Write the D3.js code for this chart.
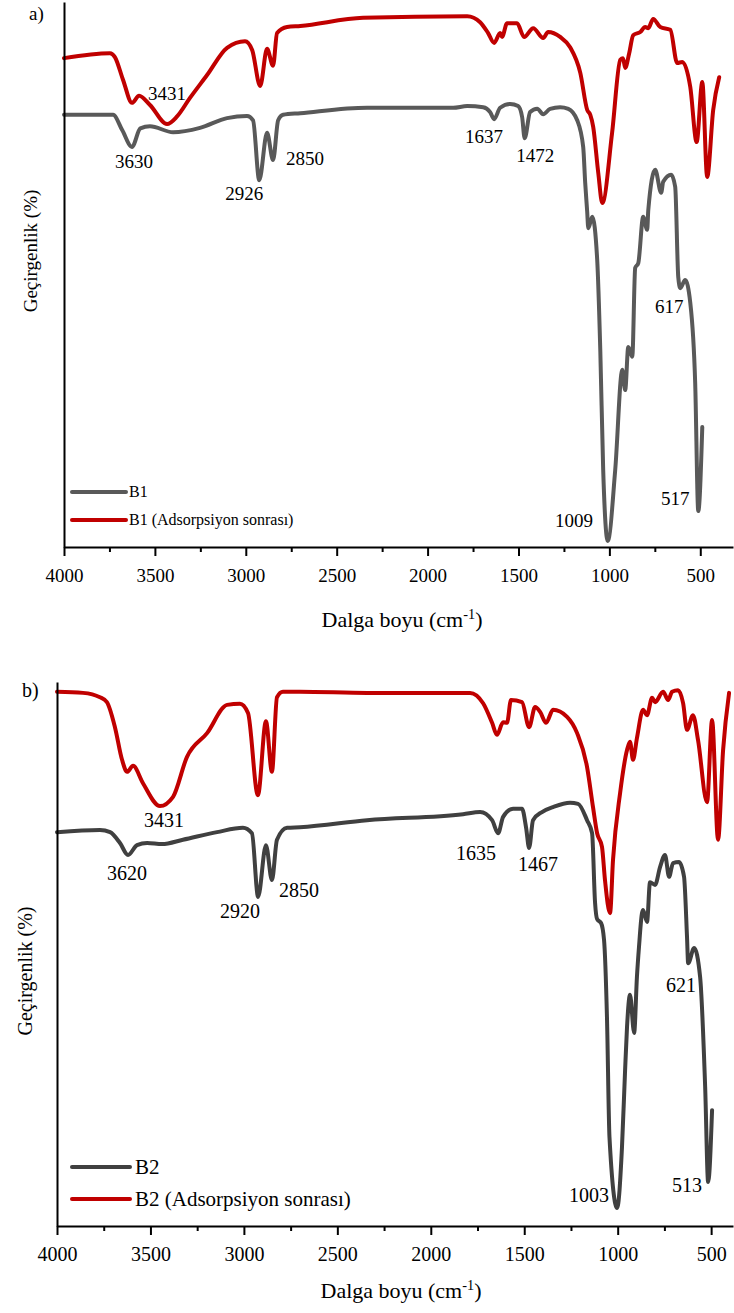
<!DOCTYPE html>
<html><head><meta charset="utf-8">
<script src="https://cdn.jsdelivr.net/npm/d3@7/dist/d3.min.js"></script>
<style>
body{margin:0;background:#fff}
svg{display:block}
svg text{font-family:"Liberation Serif","Times New Roman",Times,"Tinos","Noto Serif","DejaVu Serif",serif !important;fill:#000}
</style>
</head><body>
<svg id="c" width="734" height="1313"></svg>
<script>
// ---------- data ----------
const xTicks = [4000, 3500, 3000, 2500, 2000, 1500, 1000, 500];
const xMinorTicks = [3750, 3250, 2750, 2250, 1750, 1250, 750];

// [wavenumber cm-1, transmittance (a.u., %)]
const b1 = [
[4000,79.3],[3730,79.3],[3680,76.5],[3626,73.4],[3580,76.8],[3527,77.2],[3400,76.1],[3252,76.9],
[3103,78.7],[2993,79.1],[2960,78.3],[2926,67.3],[2883,76.0],[2850,71.0],[2822,78.3],[2795,79.3],
[2700,79.6],[2333,80.6],[1860,80.6],[1782,80.9],[1694,80.7],[1656,79.8],[1634,78.5],[1601,80.6],
[1546,81.3],[1502,80.9],[1480,78.9],[1466,75.0],[1436,79.8],[1397,80.4],[1364,79.4],[1326,80.4],
[1271,80.7],[1226,80.4],[1177,78.3],[1144,73.4],[1133,66.8],[1122,61.5],[1116,58.5],[1094,60.6],
[1067,52.7],[1050,36.1],[1034,14.1],[1009,1.1],[968,14.1],[929,32.5],[913,28.8],[896,36.7],
[874,34.9],[858,51.2],[841,52.1],[814,60.6],[792,58.2],[786,61.8],[748,69.2],[715,65.0],
[704,67.0],[660,68.3],[638,66.1],[621,49.5],[610,47.5],[583,49.0],[555,44.8],[528,30.1],
[511,6.6],[489,22.0]
];
const b1Ads = [
[4000,89.7],[3747,90.6],[3720,89.9],[3675,85.7],[3626,81.5],[3587,82.8],[3527,81.1],[3433,77.6],
[3378,79.0],[3307,82.4],[3213,86.6],[3103,91.6],[3004,92.8],[2965,91.2],[2921,84.6],[2883,91.4],
[2850,88.3],[2828,94.3],[2773,95.4],[2700,95.6],[2355,97.1],[1782,97.4],[1711,96.3],[1667,94.3],
[1634,92.5],[1601,94.3],[1590,93.6],[1563,96.1],[1508,96.1],[1469,93.6],[1419,95.2],[1364,93.4],
[1337,94.5],[1271,93.6],[1216,91.7],[1160,87.0],[1122,80.2],[1105,79.3],[1089,77.1],[1061,68.6],
[1039,63.1],[985,76.0],[940,89.4],[925,89.7],[913,87.9],[891,90.6],[869,93.9],[830,94.5],
[803,95.4],[786,95.2],[759,96.9],[720,95.4],[665,94.9],[627,88.8],[599,89.0],[555,84.4],
[520,74.3],[489,85.3],[462,67.9],[429,80.2],[396,86.2]
];
const b2 = [
[4000,72.4],[3770,72.8],[3716,72.4],[3663,70.4],[3620,68.2],[3572,70.0],[3518,70.4],[3438,70.2],
[3326,71.0],[3144,72.4],[3005,73.2],[2957,72.2],[2924,60.5],[2882,70.0],[2850,63.6],[2823,71.0],
[2769,73.2],[2700,73.3],[2341,74.6],[1827,75.7],[1736,76.1],[1672,74.6],[1640,72.2],[1613,75.2],
[1560,76.7],[1512,76.7],[1490,73.2],[1474,69.5],[1453,74.6],[1405,76.1],[1346,77.0],[1255,77.8],
[1212,77.6],[1164,74.6],[1137,72.2],[1121,59.4],[1110,56.4],[1089,55.7],[1073,52.6],[1057,37.9],
[1044,16.4],[1003,3.3],[977,14.5],[961,28.1],[950,36.6],[934,42.5],[912,35.5],[897,45.8],
[886,51.3],[870,57.5],[864,58.1],[843,55.9],[827,63.2],[800,62.7],[773,66.0],[747,68.2],
[725,64.2],[704,66.7],[672,66.9],[645,64.2],[629,53.1],[623,48.3],[591,51.1],[559,45.8],
[532,25.6],[516,8.1],[495,21.3]
];
const b2Ads = [
[4000,98.2],[3861,98.0],[3770,97.2],[3733,96.3],[3690,91.7],[3652,85.7],[3625,83.5],[3593,84.6],
[3540,81.4],[3449,77.2],[3379,78.9],[3305,86.2],[3197,90.6],[3090,95.8],[3021,96.0],[2978,94.3],
[2925,79.2],[2882,92.8],[2850,83.5],[2823,97.2],[2791,98.2],[2700,98.2],[2341,98.0],[1790,98.0],
[1720,96.1],[1672,92.5],[1646,90.3],[1613,92.6],[1592,92.5],[1571,96.7],[1512,96.3],[1474,91.7],
[1442,95.4],[1415,94.5],[1383,92.5],[1346,94.9],[1271,93.6],[1217,90.6],[1164,84.4],[1132,77.0],
[1110,72.2],[1084,69.7],[1068,63.6],[1041,57.5],[1025,67.3],[987,79.6],[950,87.5],[934,89.0],
[918,85.7],[897,89.7],[864,94.9],[843,93.9],[816,97.1],[800,96.3],[757,98.2],[730,96.7],
[709,98.2],[677,98.5],[650,96.1],[629,91.2],[597,93.9],[570,89.3],[522,77.9],[495,93.0],
[463,71.0],[436,87.5],[404,98.0]
];

// peak annotations: label, wavenumber, transmittance position of label
const peaksA = [
["3431",3433,82.0],["3630",3615,69.5],["2926",3009,63.7],["2850",2674,70.1],["1637",1689,74.1],
["1472",1408,70.6],["617",671,42.9],["1009",1194,3.7],["517",638,7.7]
];
const peaksB = [
["3431",3427,73.3],["3620",3625,63.6],["2920",3021,56.6],["2850",2705,60.5],["1635",1758,67.3],
["1467",1426,65.3],["621",661,43.0],["1003",1153,4.4],["513",629,6.3]
];
const legendA = ["B1", "B1 (Adsorpsiyon sonrası)"];
const legendB = ["B2", "B2 (Adsorpsiyon sonrası)"];
const panelLabels = ["a)", "b)"];
const xTitle = "Dalga boyu (cm";
const yTitle = "Geçirgenlik (%)";

// ---------- drawing ----------
const svg = d3.select("#c");
const RED = "#c00000";
const SERIF = '"Liberation Serif","Times New Roman",Times,Tinos,"Noto Serif","DejaVu Serif",serif';

function panel(cfg) {
  const g = svg.append("g").attr("font-family", SERIF);
  const x = d3.scaleLinear().domain([4000, cfg.xEnd]).range([cfg.left, cfg.right]);
  const y = d3.scaleLinear().domain([0, 100]).range([cfg.bottom, cfg.top]);
  const line = d3.line().x(d => x(d[0])).y(d => y(d[1])).curve(d3.curveMonotoneX);

  g.append("path").datum(cfg.ads).attr("d", line)
    .attr("fill", "none").attr("stroke", RED).attr("stroke-width", 4)
    .attr("stroke-linejoin", "round").attr("stroke-linecap", "round");
  g.append("path").datum(cfg.base).attr("d", line)
    .attr("fill", "none").attr("stroke", cfg.gray).attr("stroke-width", 4)
    .attr("stroke-linejoin", "round").attr("stroke-linecap", "round");

  const ya = g.append("g").attr("transform", `translate(${cfg.left},0)`)
    .call(d3.axisLeft(y).tickValues([]).tickSizeOuter(0));
  ya.select(".domain").attr("stroke", "#000").attr("stroke-width", 2);

  const xm = g.append("g").attr("transform", `translate(0,${cfg.bottom})`)
    .call(d3.axisBottom(x).tickValues(xMinorTicks).tickSize(5).tickFormat(""));
  xm.select(".domain").remove();
  xm.selectAll("line").attr("stroke", "#000").attr("stroke-width", 2);

  const xa = g.append("g").attr("transform", `translate(0,${cfg.bottom})`)
    .call(d3.axisBottom(x).tickValues(xTicks).tickSize(9).tickSizeOuter(0).tickFormat(d3.format("d")));
  xa.attr("font-family", SERIF);
  xa.select(".domain").attr("stroke", "#000").attr("stroke-width", 2);
  xa.selectAll("line").attr("stroke", "#000").attr("stroke-width", 2);
  xa.selectAll("text").attr("y", 35).attr("dy", 0)
    .style("font-family", SERIF).style("font-size", cfg.tickFont + "px").attr("fill", "#000");

  g.selectAll(".pk").data(cfg.peaks).enter().append("text")
    .attr("x", d => x(d[1])).attr("y", d => y(d[2]))
    .attr("text-anchor", "middle").style("font-size", cfg.peakFont + "px")
    .text(d => d[0]);

  const cols = [cfg.gray, RED];
  cfg.legend.forEach((t, i) => {
    const ly = cfg.legY + i * cfg.legGap;
    g.append("line").attr("x1", cfg.legX1).attr("x2", cfg.legX2).attr("y1", ly).attr("y2", ly)
      .attr("stroke", cols[i]).attr("stroke-width", 4).attr("stroke-linecap", "round");
    g.append("text").attr("x", cfg.legX2 + cfg.legPad).attr("y", ly + cfg.legFont * 0.32)
      .style("font-size", cfg.legFont + "px").text(t);
  });

  const xt = g.append("text").attr("x", cfg.xTitleX).attr("y", cfg.xTitleY)
    .attr("text-anchor", "middle").style("font-size", cfg.titleFont + "px");
  xt.append("tspan").text(xTitle);
  xt.append("tspan").attr("dy", -cfg.titleFont * 0.38).style("font-size", (cfg.titleFont * 0.65) + "px").text("-1");
  xt.append("tspan").attr("dy", cfg.titleFont * 0.38).text(")");

  g.append("text").attr("transform", `translate(${cfg.yTitleX},${cfg.yTitleY}) rotate(-90)`)
    .attr("text-anchor", "middle").style("font-size", cfg.yFont + "px").text(yTitle);

  g.append("text").attr("x", cfg.labX).attr("y", cfg.labY)
    .style("font-size", cfg.labFont + "px").text(cfg.label);
}

panel({
  base: b1, ads: b1Ads, peaks: peaksA, legend: legendA, label: panelLabels[0],
  left: 64, right: 733, top: 2, bottom: 547, xEnd: 320, gray: "#595959",
  tickFont: 19, peakFont: 19, legFont: 16, titleFont: 22, yFont: 19, labFont: 19,
  legX1: 72, legX2: 126, legY: 492, legGap: 28, legPad: 3,
  xTitleX: 402, xTitleY: 627, yTitleX: 37, yTitleY: 251, labX: 29, labY: 20
});
panel({
  base: b2, ads: b2Ads, peaks: peaksB, legend: legendB, label: panelLabels[1],
  left: 57, right: 733, top: 682, bottom: 1226, xEnd: 383, gray: "#404040",
  tickFont: 20, peakFont: 20, legFont: 21, titleFont: 22, yFont: 20, labFont: 20,
  legX1: 72, legX2: 130, legY: 1167, legGap: 32, legPad: 5,
  xTitleX: 401, xTitleY: 1298, yTitleX: 32, yTitleY: 971, labX: 22, labY: 697
});
</script>
</body></html>
